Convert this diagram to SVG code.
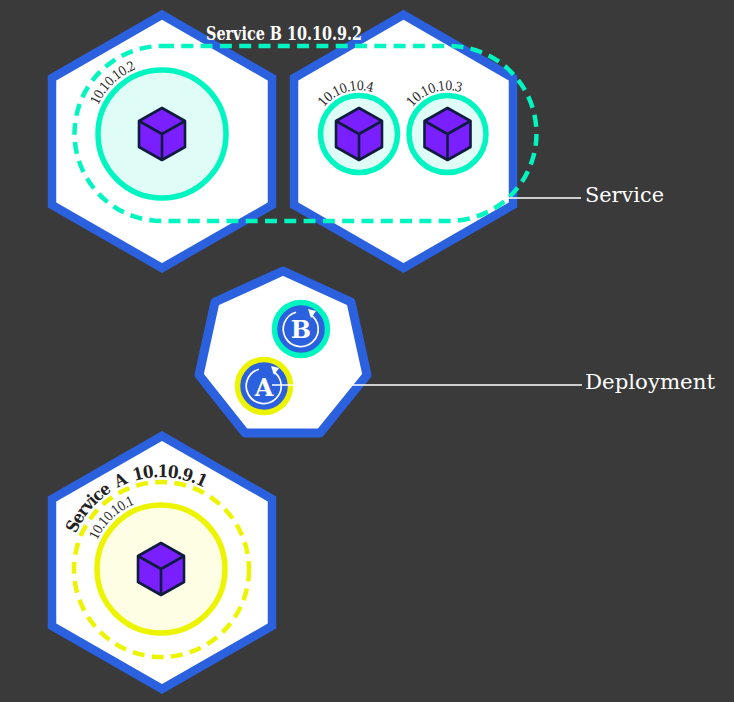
<svg xmlns="http://www.w3.org/2000/svg" width="734" height="702" viewBox="0 0 734 702">
<style>
.hex{fill:#fff;stroke:#2b60de;stroke-width:8.500;stroke-linejoin:miter}
.hept{fill:#fff;stroke:#2b60de;stroke-width:9;stroke-linejoin:round}
.teal{fill:#e0fcf6;stroke:#00f5c0;stroke-width:5.500}
.yellow{fill:#fdfee3;stroke:#ecf400;stroke-width:5.500}
.dash{fill:none;stroke-width:4.500;stroke-dasharray:12 7.300}
.cube{fill:#7a1fff;stroke:#0f1c3f;stroke-width:2.600;stroke-linejoin:round}
.pod{font-family:"DejaVu Serif Condensed","DejaVu Serif",serif;font-size:13px;letter-spacing:-1px;fill:#2a2a2a}
.svc{font-family:"DejaVu Serif Condensed","DejaVu Serif",serif;font-weight:700;font-size:18px}
.lab{font-family:"DejaVu Serif Condensed","DejaVu Serif",serif;font-size:21px;fill:#fff}
.ring{fill:none;stroke:#fff;stroke-width:1.700}
.letter{font-family:"DejaVu Serif",serif;font-weight:700;font-size:24px;fill:#fff;text-anchor:middle}
.lead{stroke:#fff;stroke-width:1.400;fill:none}
</style>
<defs>
<g id="cube">
<path class="cube" d="M0-26L23-13V13L0 26L-23 13V-13Z"/>
<path class="cube" style="fill:none" d="M-23-13L0 0L23-13M0 0V26"/>
</g>
<g id="ctl">
<path class="ring" d="M9 -14.800A17.500 17.500 0 1 1 -5 -16.800"/>
<path fill="#fff" d="M7-20L15-18L10-11Z"/>
</g>
<path id="p1" d="M98 105.500A70 70 0 0 1 162 64"/>
<path id="p4" d="M324 107.300A44 44 0 0 1 390 103"/>
<path id="p3" d="M412.500 107.300A44 44 0 0 1 478.500 103"/>
<path id="p0" d="M97 540.500A70 70 0 0 1 161 499"/>
<path id="pA" d="M76 533.800A92 92 0 0 1 240 522"/>
</defs>
<rect width="734" height="702" fill="#3a3a3a"/>
<g id="node-hex1">
<path class="hex" d="M162 14.700L272 78V205L162 268L52 205V78Z"/>
<circle class="teal" cx="162" cy="134" r="64"/>
<use href="#cube" x="162" y="134"/>
<text class="pod"><textPath href="#p1">10.10.10.2</textPath></text>
</g>
<g id="node-hex2">
<path class="hex" d="M403.500 14.700L513 78V205L403.500 268L294 205V78Z"/>
<circle class="teal" cx="359" cy="134" r="38.500"/>
<use href="#cube" x="359" y="134"/>
<text class="pod"><textPath href="#p4">10.10.10.4</textPath></text>
<circle class="teal" cx="447.500" cy="134" r="38.500"/>
<use href="#cube" x="447.500" y="134"/>
<text class="pod"><textPath href="#p3">10.10.10.3</textPath></text>
</g>
<g id="node-hept">
<path class="hept" d="M283 271L351 302L367 375L320 433H245L199 375L215 302Z"/>
</g>
<g id="node-deploy-b">
<circle cx="301" cy="329" r="26.500" fill="#2b60de" stroke="#00f5c0" stroke-width="5.500"/>
<use href="#ctl" x="301" y="329"/>
<text class="letter" x="301" y="337.500">B</text>
</g>
<g id="node-deploy-a">
<circle cx="264" cy="386" r="26.500" fill="#2b60de" stroke="#ecf400" stroke-width="5.500"/>
<use href="#ctl" x="264" y="386"/>
<text class="letter" x="264" y="396">A</text>
</g>
<g id="node-hex3">
<path class="hex" d="M162 436L272 499V626L162 689L52 626V499Z"/>
<circle class="yellow" cx="161" cy="569" r="64"/>
<use href="#cube" x="161" y="569"/>
<text class="pod"><textPath href="#p0">10.10.10.1</textPath></text>
<circle class="dash" stroke="#ecf400" cx="161.500" cy="569.500" r="87.500"/>
<text class="svc" fill="#222" style="font-size:17px;letter-spacing:-1px;word-spacing:3px"><textPath href="#pA">Service A 10.10.9.1</textPath></text>
</g>
<g id="connectors">
<path class="dash" stroke="#00f5c0" d="M162 46H449A87.500 87.500 0 0 1 449 221H162A87.500 87.500 0 0 1 162 46Z"/>
<path class="lead" d="M507 198H581"/>
<path class="lead" d="M272 385H582"/>
</g>
<text class="svc" x="206" y="40" fill="#fff" textLength="156" lengthAdjust="spacingAndGlyphs">Service B 10.10.9.2</text>
<text class="lab" x="585" y="201.500" textLength="79" lengthAdjust="spacingAndGlyphs">Service</text>
<text class="lab" x="585" y="389" textLength="130" lengthAdjust="spacingAndGlyphs">Deployment</text>
</svg>
